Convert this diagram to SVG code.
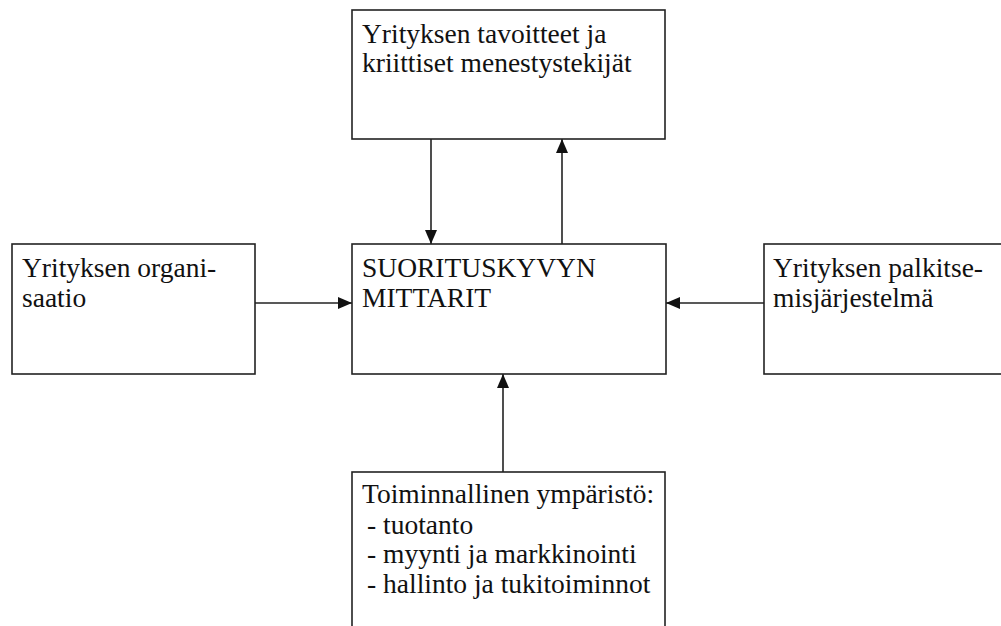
<svg xmlns="http://www.w3.org/2000/svg" width="1001" height="626" viewBox="0 0 1001 626">
<style>
.box{fill:#fff;stroke:#222;stroke-width:1.6}
.t{font-family:'Liberation Serif','Times New Roman','DejaVu Serif',serif;font-size:27.5px;fill:#111}
.c{stroke:#222;stroke-width:1.6;fill:none;marker-end:url(#ah)}
</style>
<defs>
<marker id="ah" viewBox="0 0 14 12" refX="14" refY="6" markerWidth="14" markerHeight="12" markerUnits="userSpaceOnUse" orient="auto">
<path d="M0,0 L14,6 L0,12 Z" fill="#111"/>
</marker>
</defs>
<rect width="1001" height="626" fill="#fff"/>
<g id="connectors">
<line class="c" x1="431" y1="139" x2="431" y2="244"/>
<line class="c" x1="562" y1="244" x2="562" y2="139"/>
<line class="c" x1="255" y1="303" x2="352" y2="303"/>
<line class="c" x1="764" y1="303" x2="666" y2="303"/>
<line class="c" x1="503" y1="472" x2="503" y2="374"/>
</g>
<g font-family="Liberation Serif, Times New Roman, serif">
<g id="goals">
<rect class="box" x="352" y="10" width="313" height="129"/>
<text class="t" x="362" y="43">Yrityksen tavoitteet ja</text>
<text class="t" x="362" y="72">kriittiset menestystekijät</text>
</g>
<g id="organisation">
<rect class="box" x="12" y="244" width="243" height="130"/>
<text class="t" x="22" y="277">Yrityksen organi-</text>
<text class="t" x="22" y="307">saatio</text>
</g>
<g id="measures">
<rect class="box" x="352" y="244" width="314" height="130"/>
<text class="t" x="362" y="277">SUORITUSKYVYN</text>
<text class="t" x="362" y="307">MITTARIT</text>
</g>
<g id="reward">
<rect class="box" x="764" y="244" width="238" height="130"/>
<text class="t" x="773" y="277">Yrityksen palkitse-</text>
<text class="t" x="773" y="307">misjärjestelmä</text>
</g>
<g id="environment">
<rect class="box" x="352" y="472" width="313" height="170"/>
<text class="t" x="362" y="503">Toiminnallinen ympäristö:</text>
<text class="t" x="367" y="534">- tuotanto</text>
<text class="t" x="367" y="563">- myynti ja markkinointi</text>
<text class="t" x="367" y="593">- hallinto ja tukitoiminnot</text>
</g>
</g>
</svg>
